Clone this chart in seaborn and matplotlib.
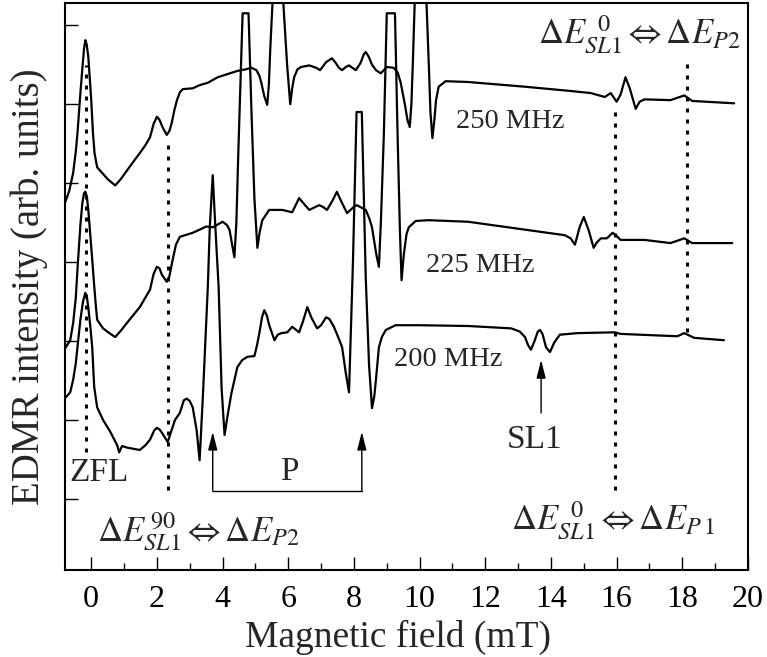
import numpy as np
import pandas as pd
import matplotlib
matplotlib.use("Agg")
import matplotlib.pyplot as plt
import seaborn as sns

# --------------------------
# EDMR spectra (field in mT, intensity in arb. units)
# --------------------------
field_250 = [-0.79, -0.67, -0.55, -0.47, -0.42, -0.33, -0.27, -0.22, -0.18, -0.14, -0.09, -0.04,
             0.00, 0.05, 0.10, 0.18, 0.33, 0.50, 0.73, 0.90, 1.09, 1.30, 1.48, 1.65, 1.79,
             1.90, 2.00, 2.08, 2.18, 2.30, 2.38, 2.45, 2.53, 2.61, 2.70, 2.79, 3.09, 3.30,
             3.55, 3.85, 4.15, 4.45, 4.70, 4.88, 5.03, 5.12, 5.18, 5.27, 5.36, 5.41, 5.45,
             5.52, 5.68, 5.85, 5.92, 5.97, 6.06, 6.12, 6.18, 6.28, 6.39, 6.64, 6.85, 6.97,
             7.06, 7.15, 7.33, 7.45, 7.54, 7.64, 7.75, 7.85, 7.95, 8.06, 8.20, 8.30, 8.36,
             8.45, 8.55, 8.67, 8.82, 9.00, 9.21, 9.33, 9.42, 9.55, 9.63, 9.70, 9.75, 9.80,
             9.85, 10.03, 10.21, 10.28, 10.33, 10.39, 10.45, 10.50, 10.58, 10.79, 11.48,
             13.21, 14.50, 15.21, 15.64, 15.82, 16.00, 16.12, 16.27, 16.40, 16.58, 16.70,
             16.85, 17.64, 18.06, 18.30, 19.58]
signal_250 = [3.76, 3.90, 4.13, 4.40, 4.63, 5.14, 5.45, 5.70, 5.81, 5.76, 5.60, 5.30,
              5.05, 4.65, 4.38, 4.20, 4.13, 4.05, 3.97, 4.05, 4.16, 4.28, 4.38, 4.48, 4.58,
              4.75, 4.84, 4.80, 4.70, 4.61, 4.66, 4.76, 4.92, 5.05, 5.15, 5.19, 5.20, 5.24,
              5.27, 5.34, 5.38, 5.42, 5.44, 5.46, 5.43, 5.36, 5.27, 5.10, 4.99, 5.25, 5.68,
              6.28, 7.50, 6.28, 5.80, 5.47, 5.00, 5.20, 5.34, 5.44, 5.47, 5.49, 5.46, 5.43,
              5.48, 5.53, 5.58, 5.52, 5.46, 5.43, 5.47, 5.49, 5.46, 5.43, 5.52, 5.63, 5.66,
              5.60, 5.50, 5.43, 5.39, 5.47, 5.46, 5.40, 5.28, 5.00, 4.80, 4.71, 5.00, 5.60,
              6.28, 7.60, 6.28, 5.50, 4.90, 4.57, 4.80, 5.05, 5.22, 5.29, 5.28,
              5.22, 5.17, 5.14, 5.09, 5.14, 5.03, 5.12, 5.34, 5.20, 4.94, 5.03,
              5.06, 5.05, 5.11, 5.04, 5.01]

field_225 = [-0.79, -0.64, -0.55, -0.47, -0.42, -0.33, -0.27, -0.22, -0.18, -0.13, -0.09, -0.03,
             0.03, 0.09, 0.14, 0.18, 0.36, 0.55, 0.73, 0.90, 1.09, 1.48, 1.79, 1.90, 2.00,
             2.08, 2.15, 2.30, 2.38, 2.48, 2.58, 2.70, 3.09, 3.30, 3.50, 3.70, 4.00, 4.13,
             4.21, 4.30, 4.36, 4.42, 4.48, 4.61, 4.79, 4.88, 4.97, 5.06, 5.13, 5.21, 5.42,
             5.82, 6.12, 6.25, 6.33, 6.45, 6.64, 6.94, 7.05, 7.18, 7.35, 7.48, 7.60, 7.79,
             8.00, 8.09, 8.36, 8.47, 8.55, 8.68, 8.76, 8.82, 8.91, 9.00, 9.25, 9.33, 9.40,
             9.45, 9.52, 9.60, 9.67, 9.88, 10.27, 11.48, 13.21, 14.42, 14.60, 14.73, 14.88,
             15.00, 15.15, 15.30, 15.40, 15.52, 15.70, 15.88, 16.00, 16.12, 16.85, 17.64,
             18.06, 18.30, 19.52]
signal_225 = [1.91, 2.01, 2.23, 2.55, 2.90, 3.47, 3.75, 3.87, 3.89, 3.82, 3.66, 3.35,
              3.03, 2.70, 2.45, 2.27, 2.16, 2.10, 2.05, 2.13, 2.23, 2.43, 2.65, 2.85, 2.94,
              2.92, 2.84, 2.75, 2.82, 3.03, 3.22, 3.32, 3.37, 3.41, 3.45, 3.44, 3.51, 3.47,
              3.41, 3.20, 3.06, 3.50, 4.40, 6.15, 6.15, 4.90, 3.80, 3.18, 3.38, 3.53, 3.66,
              3.66, 3.63, 3.74, 3.81, 3.75, 3.66, 3.72, 3.70, 3.66, 3.78, 3.89, 3.78, 3.62,
              3.70, 3.72, 3.66, 3.55, 3.44, 3.10, 2.94, 3.50, 4.60, 6.15, 6.15, 4.60, 3.40,
              2.77, 3.10, 3.35, 3.44, 3.52, 3.53, 3.51, 3.41, 3.34, 3.30, 3.22, 3.45,
              3.57, 3.40, 3.18, 3.25, 3.30, 3.30, 3.37, 3.33, 3.28, 3.28, 3.24,
              3.30, 3.24, 3.24]

field_200 = [-0.79, -0.64, -0.55, -0.47, -0.42, -0.33, -0.25, -0.18, -0.13, -0.09, -0.02, 0.03,
             0.09, 0.18, 0.36, 0.58, 0.79, 0.85, 0.94, 1.09, 1.48, 1.65, 1.79, 1.92, 2.00,
             2.08, 2.15, 2.33, 2.43, 2.55, 2.70, 2.82, 2.91, 3.00, 3.09, 3.21, 3.30, 3.40,
             3.55, 3.61, 3.70, 3.78, 3.88, 3.97, 4.06, 4.15, 4.27, 4.45, 4.60, 4.76, 4.97,
             5.05, 5.12, 5.20, 5.27, 5.35, 5.42, 5.58, 5.68, 5.79, 5.97, 6.12, 6.33, 6.45,
             6.58, 6.70, 6.88, 7.00, 7.15, 7.25, 7.39, 7.55, 7.64, 7.75, 7.85, 7.97, 8.08,
             8.24, 8.36, 8.46, 8.55, 8.62, 8.67, 8.76, 8.85, 8.97, 9.27, 9.97, 11.48, 12.79,
             13.05, 13.21, 13.30, 13.39, 13.50, 13.60, 13.67, 13.75, 13.85, 13.97, 14.10,
             14.27, 14.82, 15.94, 16.12, 17.85, 18.06, 18.36, 19.27]
signal_200 = [1.28, 1.35, 1.51, 1.72, 1.92, 2.27, 2.50, 2.61, 2.55, 2.43, 2.15, 1.92,
              1.42, 1.16, 1.00, 0.85, 0.68, 0.59, 0.67, 0.65, 0.62, 0.68, 0.75, 0.87, 0.90,
              0.88, 0.84, 0.72, 0.85, 1.00, 1.09, 1.25, 1.27, 1.24, 1.16, 0.87, 0.49, 1.30,
              2.68, 3.44, 4.10, 3.44, 2.68, 1.40, 0.81, 1.05, 1.34, 1.67, 1.76, 1.80, 1.81,
              1.95, 2.10, 2.30, 2.39, 2.32, 2.20, 2.01, 2.08, 2.10, 2.11, 2.18, 2.11, 2.25,
              2.43, 2.30, 2.16, 2.20, 2.30, 2.28, 2.18, 2.02, 1.92, 1.60, 1.35, 3.00, 4.90,
              4.90, 2.80, 1.70, 1.15, 1.30, 1.51, 1.92, 2.05, 2.14, 2.20, 2.20, 2.19, 2.16,
              2.12, 2.05, 1.95, 1.89, 2.00, 2.12, 2.14, 2.08, 1.92, 1.86, 1.98,
              2.08, 2.10, 2.11, 2.09, 2.06, 2.10, 2.04, 2.01]

# dotted guide lines: position, lower end, upper end
guide_x = [-0.15, 2.33, 15.95, 18.15]
guide_lo = [0.60, 0.11, 0.11, 2.11]
guide_hi = [5.50, 4.54, 4.96, 5.56]

freq_labels = ["250 MHz", "225 MHz", "200 MHz"]
freq_label_x = [11.12, 10.18, 9.21]
freq_label_y = [4.78, 2.96, 1.76]

p_lines = [3.70, 8.24]
sl1_line = 13.70

x_ticks = list(range(0, 21, 2))
y_ticks = list(range(0, 7))

# --------------------------
# Style
# --------------------------
sns.set_theme(style="ticks")
plt.rcParams["font.family"] = ["Liberation Serif", "DejaVu Serif"]
plt.rcParams["mathtext.fontset"] = "stix"

fig = plt.figure(figsize=(7.67, 6.57), dpi=100)
ax = fig.add_axes([0.0847, 0.1324, 0.8905, 0.8630])

for fx, sy in [(field_250, signal_250), (field_225, signal_225), (field_200, signal_200)]:
    df = pd.DataFrame({"field": fx, "signal": sy})
    sns.lineplot(data=df, x="field", y="signal", sort=False, estimator=None,
                 color="black", lw=1.6, ax=ax)

ax.vlines(guide_x, guide_lo, guide_hi, colors="black", lw=2.2,
          linestyles=(0, (1.3, 2.3)))

for lab, lx, ly in zip(freq_labels, freq_label_x, freq_label_y):
    ax.text(lx, ly, lab, fontsize=20.5, ha="left", va="center")

# P bracket with arrows
arrow_kw = dict(arrowstyle="-|>,head_length=0.55,head_width=0.14", lw=1.0,
                color="black", mutation_scale=20, shrinkA=0, shrinkB=0)
ax.plot(p_lines, [0.1, 0.1], color="black", lw=1.0)
for px in p_lines:
    ax.annotate("", xy=(px, 0.85), xytext=(px, 0.1), arrowprops=arrow_kw)
ax.text(6.03, 0.34, "P", fontsize=24, ha="center", va="center")

# SL1 marker
ax.annotate("", xy=(sl1_line, 1.76), xytext=(sl1_line, 1.09), arrowprops=arrow_kw)
ax.text(13.5, 0.75, "SL1", fontsize=24, ha="center", va="center")
ax.text(0.24, 0.33, "ZFL", fontsize=24, ha="center", va="center")

# transition labels
ax.text(13.6, 5.77, r"$\Delta E^{\;\;0}_{SL1}\Leftrightarrow\Delta E_{P2}$",
        fontsize=25, ha="left", va="baseline")
ax.text(0.18, -0.52, r"$\Delta E^{\,90}_{SL1}\Leftrightarrow\Delta E_{P2}$",
        fontsize=25, ha="left", va="baseline")
ax.text(12.79, -0.39, r"$\Delta E^{\;\;0}_{SL1}\Leftrightarrow\Delta E_{P\,\mathrm{1}}$",
        fontsize=25, ha="left", va="baseline")

# --------------------------
# Axes
# --------------------------
ax.set_xlim(-0.8, 20)
ax.set_ylim(-0.9, 6.28)
ax.set_xticks(x_ticks)
ax.set_xticks(np.arange(1, 20, 2), minor=True)
ax.set_yticks(y_ticks)
ax.set_yticklabels([])
ax.tick_params(axis="both", which="major", direction="in", length=9.5, width=1.0,
               labelsize=23, color="black", labelcolor="black")
ax.tick_params(axis="x", which="minor", direction="in", length=5, width=1.0, color="black")
ax.tick_params(axis="x", pad=11)
for sp in ax.spines.values():
    sp.set_linewidth(1.5)
    sp.set_color("black")
    sp.set_visible(True)

ax.set_xlabel("Magnetic field (mT)", fontsize=27)
ax.set_ylabel("EDMR intensity (arb. units)", fontsize=28)
ax.xaxis.set_label_coords(0.488, -0.088)
ax.yaxis.set_label_coords(-0.025, 0.5)

fig.savefig("out.png", dpi=100)
